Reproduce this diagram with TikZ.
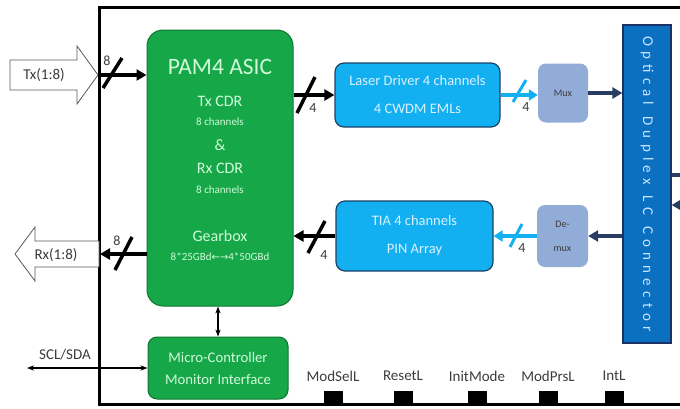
\documentclass[tikz,border=0pt]{standalone}
\usepackage{fontspec}
\setmainfont{Carlito}
\newfontfamily\connfont[LetterSpace=35]{Carlito}
\newfontfamily\arrowfont{DejaVu Sans}
\usetikzlibrary{arrows.meta, calc}

\definecolor{asicGreen}{RGB}{22,168,72}
\definecolor{asicBorder}{RGB}{14,118,48}
\definecolor{asicText}{RGB}{208,250,218}
\definecolor{drvBlue}{RGB}{18,176,240}
\definecolor{drvBorder}{RGB}{28,66,104}
\definecolor{drvText}{RGB}{218,240,255}
\definecolor{muxFill}{RGB}{146,172,216}
\definecolor{connBlue}{RGB}{12,112,192}
\definecolor{connBorder}{RGB}{26,50,100}
\definecolor{connText}{RGB}{200,228,255}
\definecolor{navyLine}{RGB}{40,60,100}
\definecolor{labelGray}{RGB}{60,60,60}

\tikzstyle{greenBox} = [shape=rectangle, draw=asicBorder, fill=asicGreen, text=asicText,
	line width=1pt, rounded corners=16pt, align=center, inner sep=0pt]
\tikzstyle{blueBox} = [shape=rectangle, draw=drvBorder, fill=drvBlue, text=drvText,
	line width=1.2pt, rounded corners=9pt, align=center, inner sep=0pt,
	font=\fontsize{14.5}{28}\selectfont]
\tikzstyle{muxBox} = [shape=rectangle, fill=muxFill, text=labelGray, rounded corners=8pt,
	align=center, inner sep=0pt, font=\fontsize{10}{24}\selectfont]
\tikzstyle{connBox} = [shape=rectangle, draw=connBorder, fill=connBlue, line width=1.2pt]
\tikzstyle{asicLabel} = [text=asicText, font=\fontsize{16}{18}\selectfont]
\tikzstyle{asicSmall} = [text=asicText, font=\fontsize{11}{13}\selectfont]
\tikzstyle{busLabel} = [text=labelGray, font=\fontsize{14}{16}\selectfont]
\tikzstyle{plainLabel} = [text=labelGray, font=\fontsize{15}{17}\selectfont]
\tikzstyle{blockArrow} = [draw=black!65, fill=white, line width=0.8pt]
\tikzstyle{busArrow} = [line width=3.5pt, draw=black, -{Triangle[length=10pt,width=11pt]}]
\tikzstyle{busSlash} = [line width=3.5pt, draw=black]
\tikzstyle{lightArrow} = [line width=4pt, draw=drvBlue, -{Triangle[length=9pt,width=11pt]}]
\tikzstyle{lightSlash} = [line width=3pt, draw=drvBlue]
\tikzstyle{navyArrow} = [line width=3.5pt, draw=navyLine, -{Triangle[length=10pt,width=11pt]}]
\tikzstyle{ctrlArrow} = [line width=1.3pt, draw=black, {Stealth[length=7pt]}-{Stealth[length=7pt]}]
\tikzstyle{pinBox} = [shape=rectangle, fill=black, minimum width=19pt, minimum height=13pt, inner sep=0pt]

\begin{document}
\begin{tikzpicture}[x=1pt, y=-1pt]
  \useasboundingbox (0,0) rectangle (680,408);
  \clip (0,0) rectangle (680,408);

  % module outline
  \draw [line width=3pt] (700,7) -| (99,404) -- (700,404);

  % electrical side
  \node (asic) [greenBox, minimum width=146pt, minimum height=276pt] at (220,168) {};
  \node (asicName) [text=asicText, font=\fontsize{23.5}{26}\selectfont] at (220,67) {PAM4 ASIC};
  \node (txCdr) [asicLabel] at (220,101) {Tx CDR};
  \node (txChan) [asicSmall] at (220,122) {8 channels};
  \node (amp) [asicLabel] at (220,145) {\&};
  \node (rxCdr) [asicLabel] at (220,168) {Rx CDR};
  \node (rxChan) [asicSmall] at (220,190) {8 channels};
  \node (gear) [asicLabel] at (220,236) {Gearbox};
  \node (gearRate) [asicSmall] at (220,257) {8*25GBd{\arrowfont\fontsize{10}{12}\selectfont ←→}4*50GBd};

  \node (mcu) [greenBox, rounded corners=9pt, minimum width=140pt, minimum height=62pt,
    font=\fontsize{14.7}{22}\selectfont] at (218,368) {Micro-Controller\\Monitor Interface};

  % optical side
  \node (laser) [blueBox, minimum width=165pt, minimum height=64pt] at (417.5,95)
    {Laser Driver 4 channels\\4 CWDM EMLs};
  \node (tia) [blueBox, minimum width=157pt, minimum height=70pt] at (414.5,236)
    {TIA 4 channels\\PIN Array};
  \node (mux) [muxBox, minimum width=50pt, minimum height=59pt] at (563,93) {Mux};
  \node (demux) [muxBox, minimum width=51pt, minimum height=62pt] at (562.5,236) {De-\\mux};
  \node (conn) [connBox, minimum width=48pt, minimum height=318pt] at (647,184) {};
  \node (connName) [rotate=-90, text=connText, font=\connfont\fontsize{15}{17}\selectfont]
    at (conn.center) {Optical\hspace{11pt}Duplex\hspace{11pt}LC\hspace{11pt}Connector};

  % host side block arrows
  \draw [blockArrow] (10,60) -- (77,60) -- (77,46) -- (98,75) -- (77,104) -- (77,90) -- (10,90) -- cycle;
  \node (txIn) [plainLabel] at (44,75) {Tx(1:8)};
  \coordinate (txTip) at (98,75);
  \draw [blockArrow] (99,241) -- (35,241) -- (35,227) -- (15,254) -- (35,281) -- (35,267) -- (99,267) -- cycle;
  \node (rxOut) [plainLabel] at (56,255) {Rx(1:8)};
  \coordinate (rxTail) at (100,254);

  % high speed lanes
  \draw [busArrow] (txTip) -- (asic.west |- txTip);
  \draw [busSlash] ($(txTip)+(5,13)$) -- ($(txTip)+(24,-17)$);
  \node (txBits) [busLabel] at (107,61) {8};

  \draw [busArrow] (asic.west |- rxTail) -- (rxTail);
  \draw [busSlash] (115,270) -- (132,237);
  \node (rxBits) [busLabel] at (117,241) {8};

  \draw [busArrow] (asic.east |- laser.west) -- (laser.west);
  \draw [busSlash] (297,113) -- (315,77);
  \node (laserBits) [busLabel] at (313,108) {4};

  \draw [busArrow] (tia.west) -- (asic.east |- tia.west);
  \draw [busSlash] (308,253) -- (325,221);
  \node (tiaBits) [busLabel] at (324,255) {4};

  \draw [lightArrow] (laser.east) -- (mux.west |- laser.east);
  \draw [lightSlash] (513,102) -- (526,80);
  \node (muxBits) [busLabel] at (526,107) {4};

  \draw [lightArrow] (demux.west) -- (tia.east);
  \draw [lightSlash] (510,247) -- (522,224);
  \node (demuxBits) [busLabel] at (522,248) {4};

  \draw [navyArrow] (mux.east) -- (mux.east -| conn.west);
  \draw [navyArrow] (conn.west |- demux.east) -- (demux.east);

  % fibre ends
  \coordinate (fiberOut) at (700,175);
  \coordinate (fiberIn) at (692,205);
  \draw [navyArrow] (conn.east |- fiberOut) -- (fiberOut);
  \draw [navyArrow] (fiberIn) -- (conn.east |- fiberIn);

  % management
  \coordinate (sclEnd) at (27,368);
  \draw [ctrlArrow] (sclEnd) -- (mcu.west);
  \node (scl) [plainLabel] at (65,355) {SCL/SDA};
  \draw [ctrlArrow] (asic.south -| mcu.north) -- (mcu.north);

  % low speed pins
  \foreach \x/\pin [count=\i] in {333/ModSelL, 403/ResetL, 477/InitMode, 548/ModPrsL, 614/IntL}{
    \node (pin\i) [pinBox] at (\x,397.5) {};
    \node (pinName\i) [plainLabel] at (\x,376) {\pin};
  }

\end{tikzpicture}
\end{document}
